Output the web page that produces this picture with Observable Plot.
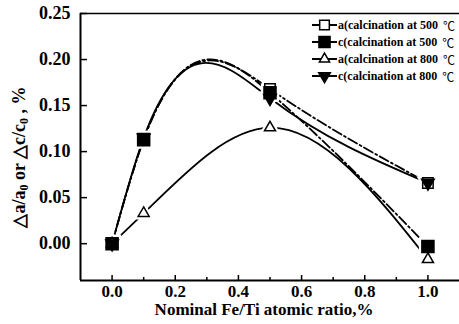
<!DOCTYPE html>
<html><head><meta charset="utf-8">
<script src="https://cdn.jsdelivr.net/npm/d3@7"></script>
<script src="https://cdn.jsdelivr.net/npm/@observablehq/plot@0.6"></script>
<style>
body{margin:0;background:#fff}
#wrap{position:relative;width:459px;height:324px;overflow:hidden;background:#fff}
.lg{position:absolute;left:312px;height:16px;display:flex;align-items:center;font:bold 12px "Liberation Serif","Times New Roman",serif;white-space:nowrap;color:#000}
.lg svg{display:block;margin-right:1px}
.deg{font-weight:normal;font-family:"Noto Sans CJK SC",sans-serif;margin-left:5px;font-size:12px}
</style></head><body><div id="wrap"></div>
<script>
// data
const ratio = [0, 0.1, 0.5, 1.0];
const a500 = [0, 0.113, 0.168, 0.066];
const c500 = [0, 0.113, 0.164, -0.003];
const a800 = [0, 0.033, 0.126, -0.017];
const c800 = [0, 0.115, 0.158, 0.066];
const seriesLabels = ["a(calcination at 500", "c(calcination at 500", "a(calcination at 800", "c(calcination at 800"];
const unit = "℃";
const xTicks = [0, 0.2, 0.4, 0.6, 0.8, 1.0];
const xMinorTicks = [0.1, 0.3, 0.5, 0.7, 0.9];
const yTicks = [0, 0.05, 0.10, 0.15, 0.20, 0.25];
const xLabel = "Nominal Fe/Ti atomic ratio,%";

const series = [
  {key: "a500", values: a500, label: seriesLabels[0], symbol: "square", fill: "white", r: 5.9, rotate: 0, dash: "10,3,2,3"},
  {key: "c500", values: c500, label: seriesLabels[1], symbol: "square", fill: "black", r: 6.8, rotate: 0, dash: "10,3,2,3"},
  {key: "a800", values: a800, label: seriesLabels[2], symbol: "triangle", fill: "white", r: 4.1, rotate: 0, dash: null},
  {key: "c800", values: c800, label: seriesLabels[3], symbol: "triangle", fill: "black", r: 4.7, rotate: 180, dash: null}
];
const rows = series.flatMap(s => ratio.map((x, i) => ({key: s.key, x, y: s.values[i]})));

// natural cubic spline y(x) curve
function splineX(context) {
  let xs, ys;
  return {
    areaStart() {}, areaEnd() {},
    lineStart() { xs = []; ys = []; },
    point(x, y) { xs.push(+x); ys.push(+y); },
    lineEnd() {
      const n = xs.length;
      if (!n) return;
      context.moveTo(xs[0], ys[0]);
      if (n === 1) return;
      if (n === 2) { context.lineTo(xs[1], ys[1]); return; }
      const h = [];
      for (let i = 0; i < n - 1; i++) h.push(xs[i + 1] - xs[i]);
      const a = [], b = [], c = [], d = [];
      for (let i = 1; i < n - 1; i++) {
        a.push(h[i - 1]); b.push(2 * (h[i - 1] + h[i])); c.push(h[i]);
        d.push(6 * ((ys[i + 1] - ys[i]) / h[i] - (ys[i] - ys[i - 1]) / h[i - 1]));
      }
      const m = n - 2;
      for (let i = 1; i < m; i++) { const w = a[i] / b[i - 1]; b[i] -= w * c[i - 1]; d[i] -= w * d[i - 1]; }
      const sol = new Array(m);
      sol[m - 1] = d[m - 1] / b[m - 1];
      for (let i = m - 2; i >= 0; i--) sol[i] = (d[i] - c[i] * sol[i + 1]) / b[i];
      const M = [0, ...sol, 0];
      for (let i = 0; i < n - 1; i++) {
        const hi = h[i];
        const s0 = (ys[i + 1] - ys[i]) / hi - hi * (2 * M[i] + M[i + 1]) / 6;
        const s1 = (ys[i + 1] - ys[i]) / hi + hi * (M[i] + 2 * M[i + 1]) / 6;
        context.bezierCurveTo(xs[i] + hi / 3, ys[i] + s0 * hi / 3, xs[i + 1] - hi / 3, ys[i + 1] - s1 * hi / 3, xs[i + 1], ys[i + 1]);
      }
    }
  };
}

const font = {fontSize: 17, fontWeight: "bold"};
const marks = [
  Plot.ruleX([-0.1], {strokeWidth: 2}),
  Plot.ruleY([-0.04], {strokeWidth: 2}),
  Plot.ruleY([0.25], {strokeWidth: 1.6}),
  Plot.axisY(yTicks, {tickSize: 0, tickPadding: 10, tickFormat: d3.format(".2f"), label: null, ...font, fontSize: 18}),
  Plot.axisY(yTicks, {tickSize: 7, dx: 7, fill: "none", strokeWidth: 1.5, label: null}),
  Plot.axisX(xTicks, {tickSize: 0, tickPadding: 4, tickFormat: d3.format(".1f"), label: null, ...font}),
  Plot.axisX(xTicks, {tickSize: 5, dy: -5, fill: "none", strokeWidth: 1.5, label: null}),
  Plot.axisX(xMinorTicks, {tickSize: 3, dy: -3, fill: "none", strokeWidth: 1.5, label: null}),
  Plot.text([xLabel], {frameAnchor: "bottom", dy: 34, dx: -6, text: d => d, ...font}),
  ...series.map(s => Plot.line(rows.filter(r => r.key === s.key), {x: "x", y: "y", stroke: "black", strokeWidth: 1.8, curve: splineX, strokeDasharray: s.dash})),
  ...series.map(s => Plot.dot(rows.filter(r => r.key === s.key), {x: "x", y: "y", symbol: s.symbol, r: s.r + 1.2, rotate: s.rotate, fill: "white", stroke: "white", strokeWidth: 4})),
  ...series.map(s => Plot.dot(rows.filter(r => r.key === s.key), {x: "x", y: "y", symbol: s.symbol, r: s.r, rotate: s.rotate, fill: s.fill, stroke: "black", strokeWidth: 1.5}))
];

const chart = Plot.plot({
  width: 459, height: 324,
  marginLeft: 80, marginRight: 0, marginTop: 13, marginBottom: 44,
  x: {domain: [-0.1, 1.1], axis: null},
  y: {domain: [-0.04, 0.25], axis: null},
  style: {fontFamily: "'Liberation Serif','Times New Roman',serif", background: "white", color: "black"},
  marks
});
const wrap = document.getElementById("wrap");
wrap.appendChild(chart);

// rotated y-axis label with subscripts
const svg = d3.select(chart);
const t = svg.append("text")
  .attr("transform", "translate(19,157) rotate(-90)")
  .attr("text-anchor", "middle").attr("dy", "0.35em")
  .attr("font-family", "'Liberation Serif','Times New Roman',serif")
  .attr("font-weight", "bold").attr("font-size", 18).attr("fill", "black");
const parts = [["△a/a", 0], ["0", 1], [" or △c/c", 0], ["0", 1], [" , %", 0]];
parts.forEach(([s, sub]) => {
  const ts = t.append("tspan").text(s);
  if (sub) ts.attr("baseline-shift", "-25%").attr("font-size", 12);
});

// legend
const legendTops = [25, 42, 59, 76];
series.forEach((s, i) => {
  const row = document.createElement("div");
  row.className = "lg";
  row.style.top = (legendTops[i] - 8) + "px";
  const ns = "http://www.w3.org/2000/svg";
  const ic = document.createElementNS(ns, "svg");
  ic.setAttribute("width", 25); ic.setAttribute("height", 16);
  const ln = document.createElementNS(ns, "line");
  ln.setAttribute("x1", 0); ln.setAttribute("x2", 25); ln.setAttribute("y1", 8); ln.setAttribute("y2", 8);
  ln.setAttribute("stroke", "black"); ln.setAttribute("stroke-width", 2);
  ic.appendChild(ln);
  const sym = s.symbol === "square" ? d3.symbolSquare : d3.symbolTriangle;
  const p = document.createElementNS(ns, "path");
  p.setAttribute("d", d3.symbol(sym, Math.PI * s.r * s.r * 0.85)());
  p.setAttribute("transform", `translate(12.5,8) rotate(${s.rotate})`);
  p.setAttribute("fill", s.fill); p.setAttribute("stroke", "black"); p.setAttribute("stroke-width", 1.5);
  ic.appendChild(p);
  row.appendChild(ic);
  const tx = document.createElement("span"); tx.textContent = s.label; row.appendChild(tx);
  const dg = document.createElement("span"); dg.className = "deg"; dg.textContent = unit; row.appendChild(dg);
  wrap.appendChild(row);
});
</script></body></html>
